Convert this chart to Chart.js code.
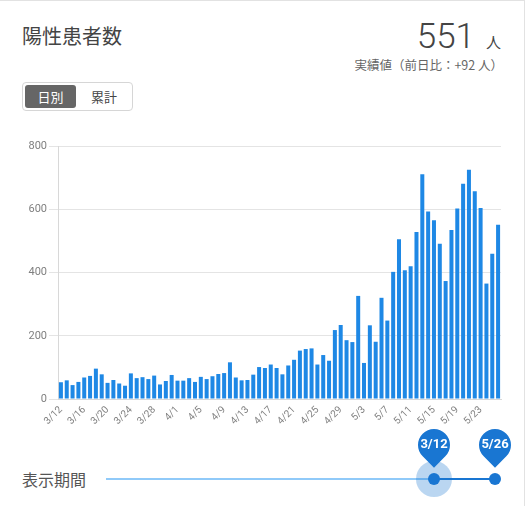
<!DOCTYPE html>
<html>
<head>
<meta charset="utf-8">
<script src="https://cdn.jsdelivr.net/npm/chart.js@4/dist/chart.umd.min.js"></script>
<style>
  html, body { margin: 0; padding: 0; background: #fff; }
  body { width: 526px; height: 506px; position: relative; overflow: hidden;
         font-family: "Noto Sans CJK JP", "Noto Sans", Roboto, sans-serif; }
  .frame { position: absolute; left: -2px; top: 0; width: 527px; height: 520px;
           border-top: 1px solid #e2e2e2; border-right: 1px solid #e2e2e2; box-sizing: border-box; }
  .title { position: absolute; left: 22px; top: 22px; font-size: 20px; color: #444; line-height: 28px; }
  .big { position: absolute; right: 25px; top: 16px; color: #444; white-space: nowrap; text-align: right; }
  .big .num { font-family: Roboto, sans-serif; font-size: 35px; font-weight: 300; }
  .big .unit { font-size: 15px; margin-left: 11px; }
  .sub { position: absolute; right: 23px; top: 55px; font-size: 12.5px; color: #666; white-space: nowrap; }
  .toggle { position: absolute; left: 22px; top: 82px; width: 111px; height: 29px; box-sizing: border-box;
            border: 1px solid #d6d6d6; border-radius: 4px; }
  .toggle .on { position: absolute; left: 2px; top: 2px; width: 51px; height: 23px; background: #666;
                border-radius: 3px; color: #fff; font-size: 13px; text-align: center; line-height: 23px; }
  .toggle .off { position: absolute; left: 68px; top: 2px; width: 40px; height: 23px; color: #444;
                 font-size: 13px; line-height: 23px; white-space: nowrap; }
  #wrap { position: absolute; left: 0; top: 130px; width: 526px; height: 300px; }
  .period { position: absolute; left: 22px; top: 467px; font-size: 16px; color: #555; line-height: 24px; }
  .rail { position: absolute; left: 106px; top: 478px; width: 328px; height: 2px; background: #90caf9; }
  .track { position: absolute; left: 434px; top: 478px; width: 61px; height: 2px; background: #1976d2; }
  .halo { position: absolute; left: 416px; top: 461px; width: 36px; height: 36px; border-radius: 50%;
          background: rgba(25,118,210,0.3); }
  .thumb { position: absolute; width: 12px; height: 12px; border-radius: 50%; background: #1976d2; top: 473px; }
  .pin { position: absolute; width: 32px; height: 32px; top: 429px; background: #1976d2;
         border-radius: 50% 50% 50% 0; transform: rotate(-45deg); }
  .pinlbl { position: absolute; width: 40px; top: 436px; text-align: center; color: #fff;
            font-family: Roboto, sans-serif; font-weight: bold; font-size: 13px; line-height: 16px; }
</style>
</head>
<body>
<div class="frame"></div>
<div class="title">陽性患者数</div>
<div class="big"><span class="num">551</span><span class="unit">人</span></div>
<div class="sub">実績値（前日比：+92 人）</div>
<div class="toggle"><div class="on">日別</div><div class="off">累計</div></div>
<div id="wrap"><canvas id="c"></canvas></div>
<div class="period">表示期間</div>
<div class="rail"></div>
<div class="track"></div>
<div class="halo"></div>
<div class="thumb" style="left:428px"></div>
<div class="thumb" style="left:489px"></div>
<div class="pin" style="left:418px"></div>
<div class="pin" style="left:479px"></div>
<div class="pinlbl" style="left:414px">3/12</div>
<div class="pinlbl" style="left:475px">5/26</div>
<script>
const categories = [
  "3/12","3/13","3/14","3/15","3/16","3/17","3/18","3/19","3/20","3/21",
  "3/22","3/23","3/24","3/25","3/26","3/27","3/28","3/29","3/30","3/31",
  "4/1","4/2","4/3","4/4","4/5","4/6","4/7","4/8","4/9","4/10",
  "4/11","4/12","4/13","4/14","4/15","4/16","4/17","4/18","4/19","4/20",
  "4/21","4/22","4/23","4/24","4/25","4/26","4/27","4/28","4/29","4/30",
  "5/1","5/2","5/3","5/4","5/5","5/6","5/7","5/8","5/9","5/10",
  "5/11","5/12","5/13","5/14","5/15","5/16","5/17","5/18","5/19","5/20",
  "5/21","5/22","5/23","5/24","5/25","5/26"
];
const dailyPositive = [
  53,59,44,54,68,73,96,78,51,60,
  49,42,81,66,69,63,74,46,57,76,
  58,58,66,54,70,63,72,79,82,116,
  68,59,60,77,101,98,109,98,78,106,
  124,153,158,160,109,139,121,218,234,186,
  180,326,114,233,181,320,248,402,505,407,
  420,528,711,593,565,491,373,534,602,681,
  725,657,604,365,459,551
];
const yTicks = [0, 200, 400, 600, 800];
const xLabelEvery = 4;

new Chart(document.getElementById('c'), {
  type: 'bar',
  data: {
    labels: categories,
    datasets: [{
      data: dailyPositive,
      backgroundColor: '#1e88e5',
      borderWidth: 0,
      categoryPercentage: 0.8,
      barPercentage: 0.86
    }]
  },
  options: {
    responsive: true,
    maintainAspectRatio: false,
    animation: false,
    layout: { padding: { left: 0, right: 25, top: 16, bottom: 0 } },
    plugins: { legend: { display: false }, tooltip: { enabled: false } },
    scales: {
      x: {
        grid: { display: false, drawTicks: false },
        border: { display: true, color: '#d8d8d8' },
        ticks: {
          autoSkip: false,
          minRotation: 45, maxRotation: 45,
          padding: 5,
          color: '#808080',
          font: { family: 'Roboto, sans-serif', size: 10 },
          callback: function (v, i) { return i % xLabelEvery === 0 ? categories[i] : ''; }
        },
        afterFit: function (s) { s.height = 31; }
      },
      y: {
        min: yTicks[0], max: yTicks[yTicks.length - 1],
        afterBuildTicks: function (s) { s.ticks = yTicks.map(v => ({ value: v })); },
        grid: { color: '#e4e4e4', tickLength: 9 },
        border: { display: true, color: '#d8d8d8' },
        ticks: {
          padding: 2,
          color: '#808080',
          font: { family: 'Roboto, sans-serif', size: 11 }
        },
        afterFit: function (s) { s.width = 58; }
      }
    }
  }
});
</script>
</body>
</html>
